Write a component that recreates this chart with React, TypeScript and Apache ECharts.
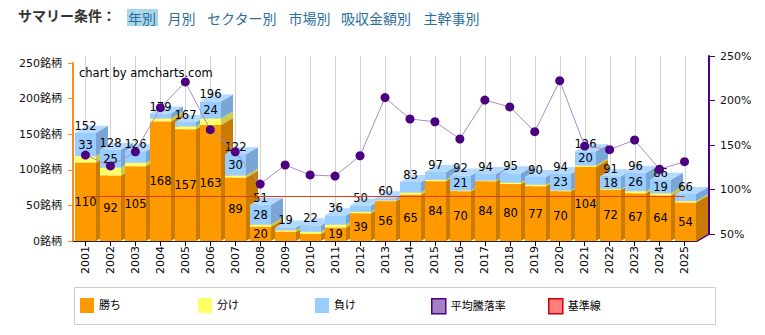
import React, { useEffect, useRef } from 'react';
import * as echarts from 'echarts';

const years = ['2001','2002','2003','2004','2005','2006','2007','2008','2009','2010','2011','2012','2013','2014','2015','2016','2017','2018','2019','2020','2021','2022','2023','2024','2025'];
const wins = [110, 92, 105, 168, 157, 163, 89, 20, 13, 10, 19, 39, 56, 65, 84, 70, 84, 80, 77, 70, 104, 72, 67, 64, 54];
const draws = [9, 11, 5, 4, 4, 9, 3, 3, 2, 3, 4, 2, 1, 3, 2, 1, 1, 2, 2, 1, 2, 1, 3, 3, 2];
const losses = [33, 25, 16, 7, 6, 24, 30, 28, 4, 9, 13, 9, 3, 15, 11, 21, 9, 13, 11, 23, 20, 18, 26, 19, 10];
const avgRates = [146.6, 134.3, 150.3, 199.8, 228.7, 175.1, 150.3, 114.0, 135.4, 124.2, 123.0, 145.8, 211.2, 187.1, 184.0, 164.6, 208.4, 200.6, 172.8, 230.1, 156.7, 152.6, 163.5, 130.6, 139.1];
const baseLine = [100, 100, 100, 100, 100, 100, 100, 100, 100, 100, 100, 100, 100, 100, 100, 100, 100, 100, 100, 100, 100, 100, 100, 100, 100];
const summaryTitle = 'サマリー条件：';
const summaryLinks = ['年別', '月別', 'セクター別', '市場別', '吸収金額別', '主幹事別'];
const legendNames = ['勝ち', '分け', '負け', '平均騰落率', '基準線'];

const FONT = "'DejaVu Sans', 'Noto Sans CJK JP', sans-serif";
const CJK = "'Noto Sans CJK JP', sans-serif";
const DX = 12;
const DY = 7;
const HALF = 10.5;
const segColors = [
  { front: '#FF9900', side: '#C97A00', top: '#FFB133' },
  { front: '#FFFF70', side: '#CCCC4A', top: '#FFFF9A' },
  { front: '#99CCFF', side: '#7AA6D6', top: '#B3D9FF' },
];
const legendStyles = [
  { color: '#FF9900' },
  { color: '#FFFF66' },
  { color: '#99CCFF' },
  { color: '#A57FC5', borderColor: '#4B0082', borderWidth: 1.5 },
  { color: '#FF7F7F', borderColor: '#CC0000', borderWidth: 1.5 },
];

function renderBar(params: any, api: any) {
  const i = api.value(0);
  const vals = [api.value(1), api.value(2), api.value(3)];
  const total = vals[0] + vals[1] + vals[2];
  const children: any[] = [];
  const p0 = api.coord([i, 0]);
  const pTop = api.coord([i, 250]);
  const cx = Math.round(p0[0]) + 0.5;
  children.push({
    type: 'line',
    shape: { x1: cx, y1: pTop[1] - DY, x2: cx, y2: p0[1] },
    style: { stroke: '#d2d2d2', lineWidth: 1 },
  });
  let base = 0;
  const labels: any[] = [];
  for (let s = 0; s < 3; s++) {
    const v = vals[s];
    if (v <= 0) continue;
    const yb = api.coord([i, base])[1];
    const yt = api.coord([i, base + v])[1];
    const xl = cx - HALF;
    const xr = cx + HALF;
    const c = segColors[s];
    children.push({
      type: 'polygon',
      shape: { points: [[xr, yb], [xr + DX, yb - DY], [xr + DX, yt - DY], [xr, yt]] },
      style: { fill: c.side },
    });
    children.push({
      type: 'rect',
      shape: { x: xl, y: yt, width: 2 * HALF, height: yb - yt },
      style: { fill: c.front },
    });
    children.push({
      type: 'polygon',
      shape: { points: [[xl, yt], [xr, yt], [xr + DX, yt - DY], [xl + DX, yt - DY]] },
      style: { fill: c.top },
    });
    if (s !== 1 && v >= 18) {
      labels.push({
        type: 'text',
        style: {
          text: String(v), x: cx, y: (yb + yt) / 2, align: 'center', verticalAlign: 'middle',
          fill: '#000', fontSize: 11.5, fontFamily: FONT,
        },
      });
    }
    base += v;
  }
  const yTotal = api.coord([i, total])[1];
  labels.push({
    type: 'text',
    style: {
      text: String(total), x: cx, y: yTotal - 7, align: 'center', verticalAlign: 'middle',
      fill: '#000', fontSize: 11.5, fontFamily: FONT,
    },
  });
  return { type: 'group', children: children.concat(labels) };
}

export default function App() {
  const ref = useRef<HTMLDivElement>(null);
  useEffect(() => {
    if (!ref.current) return;
    const chart = echarts.init(ref.current, undefined, { renderer: 'svg' });
    const barData = years.map((_, i) => [i, wins[i], draws[i], losses[i]]);
    const linkX = [128, 167.5, 207, 288.5, 341, 423.5];
    const legendX = [80, 198, 315, 431, 548];
    const graphics: any[] = [
      {
        type: 'text', left: 18, top: 8,
        style: { text: summaryTitle, fill: '#333', fontSize: 14, fontWeight: 'bold', fontFamily: CJK },
      },
      {
        type: 'rect', shape: { x: 127, y: 9, width: 31, height: 17 },
        style: { fill: '#A9D6E8' },
      },
      ...summaryLinks.map((t, k) => ({
        type: 'text', x: linkX[k], y: 17.5,
        style: { text: t, fill: '#2C6E9B', fontSize: 14, fontFamily: CJK, verticalAlign: 'middle' },
      })),
      {
        type: 'text', x: 79, y: 73,
        style: { text: 'chart by amcharts.com', fill: '#000', fontSize: 11.5, fontFamily: FONT, verticalAlign: 'middle' },
        z: 10,
      },
      {
        type: 'line', shape: { x1: 697, y1: 241, x2: 709, y2: 234 },
        style: { stroke: '#4B0082', lineWidth: 2 },
      },
      {
        type: 'rect', shape: { x: 74.5, y: 287.5, width: 641, height: 37 },
        style: { fill: 'none', stroke: '#cccccc', lineWidth: 1 },
      },
    ];
    const legends = legendNames.map((n, k) => ({
      left: legendX[k], top: 298, itemWidth: 14, itemHeight: 15, itemGap: 5,
      icon: 'rect', selectedMode: false, padding: 0,
      textStyle: { fontSize: 11, color: '#000', fontFamily: FONT },
      data: [{ name: n, itemStyle: legendStyles[k] }],
    }));
    const option: any = {
      animation: false,
      textStyle: { fontFamily: FONT },
      graphic: graphics,
      grid: [
        { left: 73, top: 63, width: 624, height: 178 },
        { left: 85, top: 56, width: 624, height: 178 },
      ],
      legend: legends,
      xAxis: [
        {
          type: 'category', gridIndex: 0, data: years, boundaryGap: true,
          axisLine: { show: true, lineStyle: { color: '#222', width: 1 } },
          axisTick: { show: true, alignWithLabel: true, length: 5, lineStyle: { color: '#000' } },
          axisLabel: { rotate: 90, fontSize: 11, color: '#000', margin: 5, fontFamily: FONT },
          splitLine: { show: false },
        },
        { type: 'category', gridIndex: 1, data: years, show: false },
      ],
      yAxis: [
        {
          type: 'value', gridIndex: 0, min: 0, max: 250, interval: 50, position: 'left',
          axisLine: { show: true, lineStyle: { color: '#FF8A1F', width: 2 } },
          axisTick: { show: true, length: 5, lineStyle: { color: '#FF8A1F' } },
          axisLabel: { formatter: '{value}銘柄', fontSize: 11, color: '#111', margin: 11, fontFamily: FONT },
          splitLine: { show: false },
        },
        { type: 'value', gridIndex: 0, min: 50, max: 250, show: false, splitLine: { show: false } },
        {
          type: 'value', gridIndex: 1, min: 50, max: 250, interval: 50, position: 'right',
          axisLine: { show: true, lineStyle: { color: '#4B0082', width: 2 } },
          axisTick: { show: true, length: 6, lineStyle: { color: '#4B0082' } },
          axisLabel: { formatter: '{value}%', fontSize: 11, color: '#111', margin: 11, fontFamily: FONT },
          splitLine: { show: false },
        },
      ],
      series: [
        {
          type: 'custom', name: 'bars', xAxisIndex: 0, yAxisIndex: 0,
          renderItem: renderBar, data: barData, clip: false,
          encode: { x: 0, y: 1 }, z: 2,
        },
        { type: 'bar', name: legendNames[0], xAxisIndex: 0, yAxisIndex: 0, data: [], itemStyle: { color: '#FF9900' } },
        { type: 'bar', name: legendNames[1], xAxisIndex: 0, yAxisIndex: 0, data: [], itemStyle: { color: '#FFFF66' } },
        { type: 'bar', name: legendNames[2], xAxisIndex: 0, yAxisIndex: 0, data: [], itemStyle: { color: '#99CCFF' } },
        {
          type: 'line', name: legendNames[4], xAxisIndex: 0, yAxisIndex: 1, data: baseLine,
          showSymbol: false, symbol: 'none', lineStyle: { color: '#E23A1E', width: 1 }, z: 3,
          itemStyle: { color: '#FF7F7F' },
        },
        {
          type: 'line', name: legendNames[3], xAxisIndex: 0, yAxisIndex: 1, data: avgRates,
          symbol: 'circle', symbolSize: 9,
          lineStyle: { color: '#A98CCB', width: 1 },
          itemStyle: { color: '#4B0082' }, z: 4,
        },
      ],
    };
    chart.setOption(option);
    return () => chart.dispose();
  }, []);
  return (
    <div
      ref={ref}
      style={{ position: 'fixed', left: 0, top: 0, width: 765, height: 335, background: '#fff' }}
    />
  );
}
